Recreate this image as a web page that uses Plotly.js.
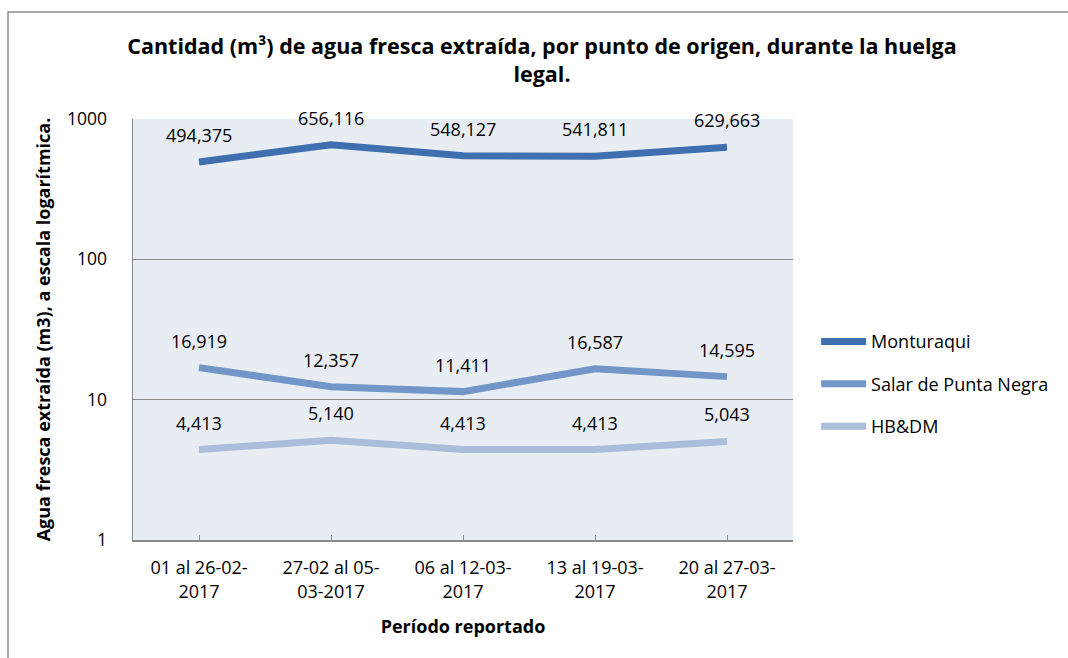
<!DOCTYPE html>
<html>
<head>
<meta charset="utf-8">
<script src="https://cdn.plot.ly/plotly-3.0.1.min.js"></script>
<style>html,body{margin:0;padding:0;background:#fff}#chart{width:1068px;height:658px}</style>
</head>
<body>
<div id="chart"></div>
<script>
const categories = ["01 al 26-02-<br>2017", "27-02 al 05-<br>03-2017", "06 al 12-03-<br>2017", "13 al 19-03-<br>2017", "20 al 27-03-<br>2017"];
const seriesNames = ["Monturaqui", "Salar de Punta Negra", "HB&DM"];
const monturaqui = [494.375, 656.116, 548.127, 541.811, 629.663];
const salar = [16.919, 12.357, 11.411, 16.587, 14.595];
const hbdm = [4.413, 5.140, 4.413, 4.413, 5.043];
const yTickVals = [1, 10, 100, 1000];
const yTickText = ["1", "10", "100", "1000"];

const colors = ["#3F6FAF", "#7396C8", "#AABDDB"];
const allSeries = [monturaqui, salar, hbdm];
const FONT = "'Open Sans', Lato, sans-serif";

const traces = allSeries.map((vals, i) => ({
  type: "scatter",
  mode: "lines",
  x: categories,
  y: vals,
  name: seriesNames[i],
  legendgroup: "g" + i,
  line: {color: colors[i], width: 7, shape: "linear"},
  hoverinfo: "skip"
}));

const fmt = v => v.toFixed(3).replace(".", ",");
const annotations = [];
allSeries.forEach(vals => {
  vals.forEach((v, j) => {
    annotations.push({
      x: categories[j], y: Math.log10(v), xref: "x", yref: "y",
      text: fmt(v), showarrow: false, yshift: 27, yanchor: "middle",
      font: {family: FONT, size: 18, color: "#000"}
    });
  });
});

const layout = {
  width: 1068, height: 658,
  margin: {l: 133, r: 275, t: 119, b: 118},
  paper_bgcolor: "#fff",
  plot_bgcolor: "#E8EDF4",
  separators: ",.",
  font: {family: FONT, size: 18, color: "#000"},
  title: {
    text: "<b>Cantidad (m³) de agua fresca extraída, por punto de origen, durante la huelga<br>legal.</b>",
    x: 0.5075, xanchor: "center", xref: "container",
    y: 1 - 54/658, yanchor: "top", yref: "container",
    font: {family: FONT, size: 21.5, color: "#000"}
  },
  xaxis: {
    type: "category",
    range: [-0.5, 4.5],
    showgrid: false,
    showline: true, linecolor: "#8A8A8A", linewidth: 1.5,
    ticks: "inside", ticklen: 5, tickcolor: "#8A8A8A",
    ticklabelstandoff: 11,
    tickfont: {family: FONT, size: 18},
    automargin: false,
    title: {text: "<b>Período reportado</b>", font: {family: FONT, size: 18}, standoff: 19}
  },
  yaxis: {
    type: "log",
    range: [0, 3],
    tickvals: yTickVals, ticktext: yTickText,
    showgrid: true, gridcolor: "#8A8A8A", gridwidth: 1,
    showline: true, linecolor: "#8A8A8A", linewidth: 1.5,
    ticks: "", ticklabelstandoff: 21,
    zeroline: false,
    tickfont: {family: FONT, size: 17.5},
    automargin: false,
    title: {text: "<b>Agua fresca extraída (m3), a escala logarítmica.</b>", font: {family: FONT, size: 18}, standoff: 11}
  },
  showlegend: true,
  legend: {
    x: 1.035, xanchor: "left", y: 0.515, yanchor: "top",
    font: {family: FONT, size: 18},
    tracegroupgap: 16,
    itemwidth: 45,
    bgcolor: "rgba(0,0,0,0)"
  },
  annotations: annotations,
  shapes: [{
    type: "rect", xref: "paper", yref: "paper",
    x0: (8 - 133) / 660, x1: 2, y0: -1, y1: (540 - 12) / 421,
    line: {color: "#8C8C8C", width: 1.5}, fillcolor: "rgba(0,0,0,0)", layer: "below"
  }]
};

Plotly.newPlot("chart", traces, layout, {displayModeBar: false, staticPlot: true});
</script>
</body>
</html>
